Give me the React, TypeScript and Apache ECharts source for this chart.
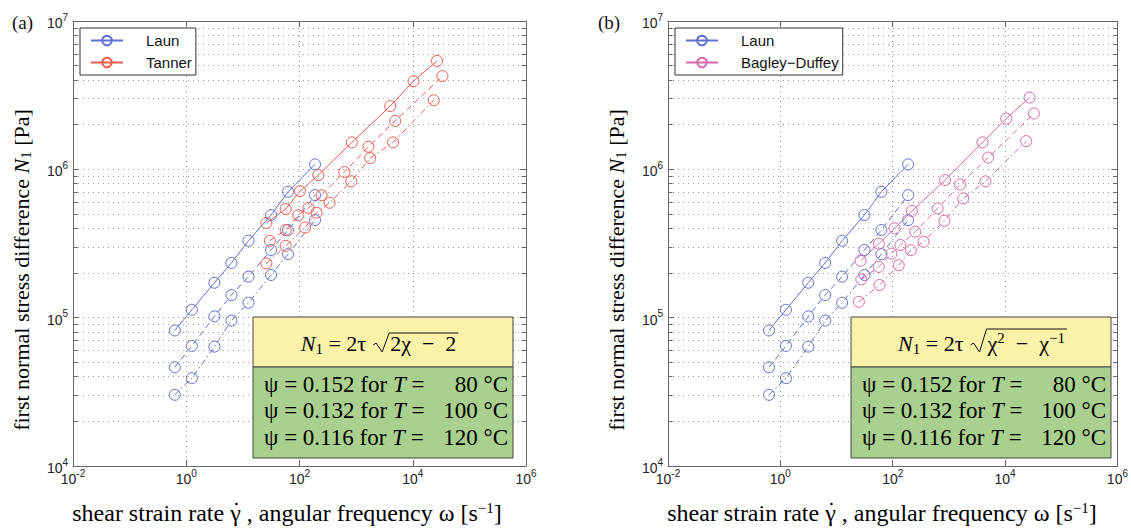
import React, { useEffect, useRef } from 'react';
import * as echarts from 'echarts';

// ---------- data ----------
const LAUN_X = [0.628, 1.257, 3.14, 6.28, 12.57, 31.4, 62.8, 188];
const LAUN_80C = [8.2e4, 1.13e5, 1.72e5, 2.34e5, 3.3e5, 4.92e5, 7.06e5, 1.08e6];
const LAUN_100C = [4.63e4, 6.45e4, 1.02e5, 1.42e5, 1.89e5, 2.86e5, 3.9e5, 6.7e5];
const LAUN_120C = [3.02e4, 3.91e4, 6.38e4, 9.55e4, 1.26e5, 1.94e5, 2.68e5, 4.55e5];

const TANNER_80C_X = [26, 57, 102, 215, 840, 4000, 10300, 26800];
const TANNER_80C = [4.35e5, 5.4e5, 7.13e5, 9.14e5, 1.52e6, 2.67e6, 3.93e6, 5.38e6];
const TANNER_100C_X = [30, 57, 95, 144, 245, 620, 1650, 4900, 33500];
const TANNER_100C = [3.3e5, 3.9e5, 4.9e5, 5.5e5, 6.7e5, 9.6e5, 1.42e6, 2.12e6, 4.25e6];
const TANNER_120C_X = [26, 57, 126, 200, 340, 820, 1770, 4480, 23500];
const TANNER_120C = [2.32e5, 3.05e5, 4.05e5, 5.1e5, 5.95e5, 8.3e5, 1.19e6, 1.52e6, 2.92e6];

const BD_80C_X = [26.8, 56.5, 108, 220, 855, 3960, 10500, 27400];
const BD_80C = [2.42e5, 3.15e5, 4.0e5, 5.24e5, 8.46e5, 1.52e6, 2.2e6, 3.05e6];
const BD_100C_X = [27.6, 56.5, 95, 137, 252, 630, 1580, 5000, 32600];
const BD_100C = [1.81e5, 2.2e5, 2.7e5, 3.09e5, 3.8e5, 5.45e5, 7.9e5, 1.2e6, 2.38e6];
const BD_120C_X = [25, 58, 128, 210, 354, 830, 1800, 4480, 23800];
const BD_120C = [1.28e5, 1.66e5, 2.26e5, 2.85e5, 3.25e5, 4.5e5, 6.37e5, 8.3e5, 1.55e6];

const X_MIN = 1e-2;
const X_MAX = 1e6;
const Y_MIN = 1e4;
const Y_MAX = 1e7;
const Y_DECADES = [1e4, 1e5, 1e6];
const Y_MINOR_MULT = [2, 3, 4, 5, 6, 7, 8, 9];
const Y_MINOR = Y_DECADES.flatMap((d) => Y_MINOR_MULT.map((m) => m * d));

const PSI_ROWS = [
  { psi: '0.152', temp: '80 °C' },
  { psi: '0.132', temp: '100 °C' },
  { psi: '0.116', temp: '120 °C' },
];

// ---------- styles ----------
const SERIF = '"Liberation Serif", "Times New Roman", serif';
const SANS = '"Liberation Sans", Arial, Helvetica, sans-serif';
const BLUE = '#5d6fcf';
const RED = '#f05a4c';
const PINK = '#d866aa';
const AXIS = '#666';
const GRIDC = '#9a9a9a';
const YELLOW = '#faf2a9';
const GREEN = '#a9d08e';
const DASH = [6, 4];
const DASHDOT = [6, 3, 1.5, 3];

const tickRich = {
  base: { fontSize: 14, fontFamily: SANS, color: '#222', lineHeight: 18, verticalAlign: 'bottom' },
  expo: { fontSize: 10, fontFamily: SANS, color: '#222', lineHeight: 9, verticalAlign: 'top' },
};
const tickFmt = (v: number) => `{base|10}{expo|${Math.round(Math.log10(v))}}`;

function mkLine(name: string, xs: number[], ys: number[], color: string, dash: any, axis: number) {
  return {
    type: 'line',
    name,
    xAxisIndex: axis,
    yAxisIndex: axis,
    data: xs.map((x, i) => [x, ys[i]]),
    symbol: 'circle',
    symbolSize: 11,
    showSymbol: true,
    silent: true,
    z: 4,
    lineStyle: { color, width: 1, type: dash },
    itemStyle: { color: 'rgba(255,255,255,0)', borderColor: color, borderWidth: 1 },
    emphasis: { disabled: true },
  };
}

function gridSeries(axis: number) {
  const tickLen = 0.08;
  const tickData: any[] = [];
  Y_MINOR.forEach((v) => {
    tickData.push([
      { coord: [X_MIN, v], lineStyle: { type: 'solid', color: AXIS } },
      { coord: [Math.pow(10, Math.log10(X_MIN) + tickLen), v] },
    ]);
    tickData.push([
      { coord: [Math.pow(10, Math.log10(X_MAX) - tickLen), v], lineStyle: { type: 'solid', color: AXIS } },
      { coord: [X_MAX, v] },
    ]);
  });
  return {
    type: 'line',
    name: '__grid' + axis,
    xAxisIndex: axis,
    yAxisIndex: axis,
    data: [],
    silent: true,
    z: 1,
    markLine: {
      silent: true,
      symbol: ['none', 'none'],
      label: { show: false },
      emphasis: { disabled: true },
      animation: false,
      lineStyle: { type: [1, 4], color: GRIDC, width: 1 },
      data: [...Y_MINOR.map((v) => ({ yAxis: v })), ...tickData],
    },
  };
}

function axesFor(grid: number) {
  const common = {
    gridIndex: grid,
    type: 'log',
    logBase: 10,
    axisLine: { show: true, lineStyle: { color: AXIS, width: 1 } },
    axisTick: { show: true, inside: true, length: 6, lineStyle: { color: AXIS } },
  };
  const label = { formatter: tickFmt, rich: tickRich, fontSize: 14, fontFamily: SANS, color: '#222' };
  const xs = [
    {
      ...common,
      min: X_MIN,
      max: X_MAX,
      interval: 2,
      position: 'bottom',
      axisLabel: { ...label, margin: 2 },
      splitLine: { show: true, lineStyle: { type: [1, 4], color: GRIDC } },
    },
    {
      ...common,
      min: X_MIN,
      max: X_MAX,
      interval: 2,
      position: 'top',
      axisLabel: { show: false },
      splitLine: { show: false },
    },
  ];
  const ys = [
    {
      ...common,
      min: Y_MIN,
      max: Y_MAX,
      interval: 1,
      position: 'left',
      axisLabel: { ...label, margin: 5 },
      splitLine: { show: true, lineStyle: { type: [1, 4], color: GRIDC } },
    },
    {
      ...common,
      min: Y_MIN,
      max: Y_MAX,
      interval: 1,
      position: 'right',
      axisLabel: { show: false },
      splitLine: { show: false },
    },
  ];
  return { xs, ys };
}

function measure(text: string, font: string) {
  const c = document.createElement('canvas').getContext('2d')!;
  c.font = font;
  return c.measureText(text).width;
}

const FS = 22;
const FSS = 15;
const fontR = `${FS}px ${SERIF}`;
const fontI = `italic ${FS}px ${SERIF}`;
const fontS = `${FSS}px ${SERIF}`;
const formulaRich = {
  r: { fontSize: FS, fontFamily: SERIF, color: '#111', lineHeight: 26 },
  i: { fontSize: FS, fontFamily: SERIF, fontStyle: 'italic', color: '#111', lineHeight: 26 },
  sub: { fontSize: FSS, fontFamily: SERIF, color: '#111', lineHeight: 12, verticalAlign: 'bottom' },
  sup: { fontSize: FSS, fontFamily: SERIF, color: '#111', lineHeight: 12, verticalAlign: 'top' },
};

function formulaGraphics(cx: number, yc: number, variant: 'a' | 'b') {
  const lead = ' = 2τ';
  const w1 = measure('N', fontI) + measure('1', fontS) + measure(lead, fontR);
  let radText: string;
  let w2: number;
  if (variant === 'a') {
    radText = '{r|2χ  −  2}';
    w2 = measure('2χ  −  2', fontR);
  } else {
    radText = '{r|χ}{sup|2}{r|  −  χ}{sup|−1}';
    w2 = measure('χ', fontR) + measure('2', fontS) + measure('  −  χ', fontR) + measure('−1', fontS);
  }
  const gap = 7;
  const radW = 16;
  const total = w1 + gap + radW + w2 + 2;
  const x0 = cx - total / 2;
  const xr = x0 + w1 + gap;
  const top = variant === 'a' ? yc - 10 : yc - 14;
  return [
    {
      type: 'text',
      z: 110,
      style: { x: x0, y: yc, text: `{i|N}{sub|1}{r|${lead}}`, rich: formulaRich, align: 'left', verticalAlign: 'middle' },
    },
    {
      type: 'polyline',
      z: 110,
      shape: {
        points: [
          [xr, yc + 2],
          [xr + 3, yc],
          [xr + 9, yc + 9],
          [xr + radW, top],
          [xr + radW + w2 + 3, top],
        ],
      },
      style: { stroke: '#111', lineWidth: 1, fill: null },
    },
    {
      type: 'text',
      z: 110,
      style: { x: xr + radW + 1, y: yc, text: radText, rich: formulaRich, align: 'left', verticalAlign: 'middle' },
    },
  ];
}

const RFS = 23;
const rowRich = {
  r: { fontSize: RFS, fontFamily: SERIF, color: '#111', lineHeight: 26 },
  i: { fontSize: RFS, fontFamily: SERIF, fontStyle: 'italic', color: '#111', lineHeight: 26 },
};

function boxGraphics(left: number, width: number, formulaCx: number, variant: 'a' | 'b') {
  const els: any[] = [
    { type: 'rect', z: 100, shape: { x: left, y: 317, width, height: 50 }, style: { fill: YELLOW, stroke: '#444', lineWidth: 1 } },
    { type: 'rect', z: 100, shape: { x: left, y: 367, width, height: 91 }, style: { fill: GREEN, stroke: '#444', lineWidth: 1 } },
    ...formulaGraphics(formulaCx, 343, variant),
  ];
  PSI_ROWS.forEach((row, i) => {
    const y = 384 + i * 26.5;
    els.push({
      type: 'text',
      z: 110,
      style: { x: left + 11, y, text: `{r|ψ = ${row.psi} for }{i|T}{r| =}`, rich: rowRich, align: 'left', verticalAlign: 'middle' },
    });
    els.push({
      type: 'text',
      z: 110,
      style: { x: left + width - 5, y, text: `{r|${row.temp}}`, rich: rowRich, align: 'right', verticalAlign: 'middle' },
    });
  });
  return els;
}

const YT = 22;
const XT = 24;
const XTS = 15;
const yTitleRich = {
  r: { fontSize: YT, fontFamily: SERIF, color: '#111' },
  i: { fontSize: YT, fontFamily: SERIF, fontStyle: 'italic', color: '#111' },
  sub: { fontSize: 15, fontFamily: SERIF, color: '#111', padding: [9, 0, 0, 0] },
};
const xTitleRich = {
  r: { fontSize: XT, fontFamily: SERIF, color: '#111' },
  sup: { fontSize: XTS, fontFamily: SERIF, color: '#111', padding: [0, 0, 11, 0] },
};

function titleGraphics(plotLeft: number, label: string, labelX: number) {
  const xcx = plotLeft + 214;
  const xcy = 513;
  const p1 = 'shear strain rate ';
  const p2 = 'γ';
  const p3 = ' , angular frequency ω [s';
  const fr = `${XT}px ${SERIF}`;
  const total = measure(p1 + p2 + p3, fr) + measure('−1', `${XTS}px ${SERIF}`) + measure(']', fr);
  const gx = xcx - total / 2 + measure(p1, fr) + measure(p2, fr) / 2 + 1;
  return [
    {
      type: 'text',
      z: 50,
      style: { x: labelX, y: 22, text: label, font: `19px ${SERIF}`, fill: '#111', align: 'left', verticalAlign: 'middle' },
    },
    {
      type: 'text',
      z: 50,
      x: plotLeft - 52,
      y: 270,
      rotation: Math.PI / 2,
      style: {
        x: 0,
        y: 0,
        text: '{r|first normal stress difference }{i|N}{sub|1}{r| [Pa]}',
        rich: yTitleRich,
        align: 'center',
        verticalAlign: 'middle',
      },
    },
    {
      type: 'text',
      z: 50,
      style: {
        x: xcx,
        y: xcy,
        text: `{r|${p1}${p2}${p3}}{sup|−1}{r|]}`,
        rich: xTitleRich,
        align: 'center',
        verticalAlign: 'middle',
      },
    },
    {
      type: 'circle',
      z: 51,
      shape: { cx: gx, cy: xcy - 9, r: 1.3 },
      style: { fill: '#111' },
    },
  ];
}

function legendFor(left: number, names: string[]) {
  return {
    show: true,
    data: names,
    orient: 'vertical',
    left,
    top: 28,
    itemWidth: 32,
    itemHeight: 12,
    itemGap: 7,
    padding: [5, 4, 5, 10],
    borderColor: '#333',
    borderWidth: 1,
    borderRadius: 0,
    backgroundColor: '#fff',
    selectedMode: false,
    z: 60,
    textStyle: { fontFamily: SANS, fontSize: 15, color: '#111', padding: [0, 0, 0, 18] },
  };
}

export default function App() {
  const ref = useRef<HTMLDivElement>(null);
  useEffect(() => {
    if (!ref.current) return;
    const chart = echarts.init(ref.current, undefined, { renderer: 'svg' });
    const a = axesFor(0);
    const b = axesFor(1);
    const option: any = {
      animation: false,
      backgroundColor: '#fff',
      grid: [
        { left: 73, top: 21, width: 453, height: 445 },
        { left: 668, top: 21, width: 453, height: 445 },
      ],
      xAxis: [...a.xs, ...b.xs],
      yAxis: [...a.ys, ...b.ys],
      legend: [legendFor(80, ['Laun', 'Tanner']), legendFor(675, ['Laun', 'Bagley−Duffey'])],
      series: [
        gridSeries(0),
        gridSeries(2),
        mkLine('Laun', LAUN_X, LAUN_80C, BLUE, 'solid', 0),
        mkLine('Laun', LAUN_X, LAUN_100C, BLUE, DASH, 0),
        mkLine('Laun', LAUN_X, LAUN_120C, BLUE, DASHDOT, 0),
        mkLine('Tanner', TANNER_80C_X, TANNER_80C, RED, 'solid', 0),
        mkLine('Tanner', TANNER_100C_X, TANNER_100C, RED, DASH, 0),
        mkLine('Tanner', TANNER_120C_X, TANNER_120C, RED, DASHDOT, 0),
        mkLine('Laun', LAUN_X, LAUN_80C, BLUE, 'solid', 2),
        mkLine('Laun', LAUN_X, LAUN_100C, BLUE, DASH, 2),
        mkLine('Laun', LAUN_X, LAUN_120C, BLUE, DASHDOT, 2),
        mkLine('Bagley−Duffey', BD_80C_X, BD_80C, PINK, 'solid', 2),
        mkLine('Bagley−Duffey', BD_100C_X, BD_100C, PINK, DASH, 2),
        mkLine('Bagley−Duffey', BD_120C_X, BD_120C, PINK, DASHDOT, 2),
      ],
      graphic: [
        ...titleGraphics(73, '(a)', 12),
        ...titleGraphics(668, '(b)', 598),
        ...boxGraphics(253, 260, 379, 'a'),
        ...boxGraphics(851, 260, 982, 'b'),
      ],
    };
    chart.setOption(option);
    return () => chart.dispose();
  }, []);
  return <div ref={ref} style={{ position: 'absolute', left: 0, top: 0, width: 1131, height: 528 }} />;
}
